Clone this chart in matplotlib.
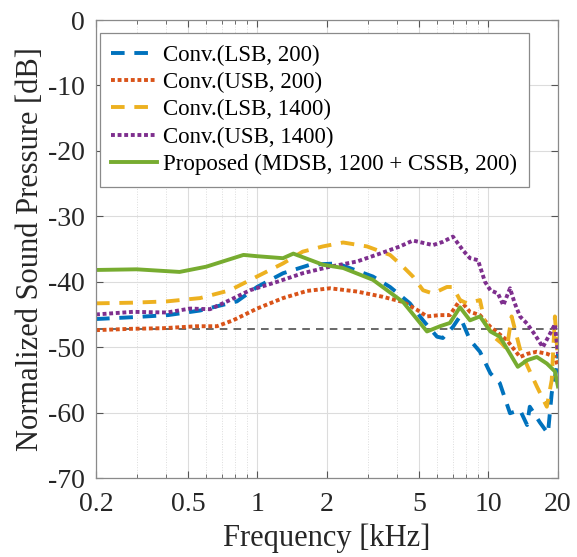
import matplotlib
matplotlib.use("Agg")
import matplotlib.pyplot as plt
from matplotlib.ticker import FixedLocator, NullFormatter, LogLocator

plt.rcParams['font.family'] = ['Liberation Serif', 'DejaVu Serif']

# Conv.(LSB, 200)
f_lsb200 = [0.2, 0.295, 0.41, 0.564, 0.815, 0.996, 1.29, 1.69, 2.21, 3.16, 3.75, 4.57, 5.21,
            5.99, 6.35, 7.02, 7.53, 8.32, 9.19, 10.2, 11.2, 12.4, 13.7, 14.7, 15.1, 16.7,
            18.1, 18.8, 19.8, 20]
db_lsb200 = [-45.7, -45.4, -45.1, -44.4, -43.0, -40.8, -38.7, -37.4, -37.2, -39.2, -40.8, -43.3,
             -45.9, -48.4, -48.6, -46.9, -45.3, -48.9, -50.7, -54.0, -55.5, -60.1, -59.6, -61.9,
             -59.1, -61.5, -63.2, -57.0, -53.0, -51.0]

# Conv.(USB, 200)
f_usb200 = [0.2, 0.281, 0.39, 0.547, 0.668, 0.784, 0.996, 1.29, 1.64, 2.06, 2.70, 3.49, 4.27,
            4.91, 5.42, 6.17, 6.81, 7.53, 8.32, 9.19, 10.2, 12.0, 13.7, 14.8, 16.2, 17.9, 19.4, 20]
db_usb200 = [-47.4, -47.2, -47.1, -46.8, -46.8, -45.9, -44.1, -42.5, -41.4, -41.0, -41.5, -42.3,
             -43.1, -44.3, -45.3, -45.1, -45.1, -42.8, -44.6, -45.1, -46.9, -48.9, -51.5, -51.0,
             -50.7, -51.0, -51.5, -53.0]

# Conv.(LSB, 1400)
f_lsb1400 = [0.2, 0.289, 0.406, 0.564, 0.76, 0.996, 1.29, 1.57, 1.92, 2.35, 2.98, 3.75, 4.27,
             4.71, 5.21, 5.75, 6.61, 7.02, 7.53, 8.07, 9.19, 9.66, 10.7, 11.4, 12.0, 12.6, 13.7,
             14.8, 16.2, 17.9, 18.8, 19.4, 20]
db_lsb1400 = [-43.3, -43.2, -43.0, -42.5, -41.3, -39.2, -37.2, -35.4, -34.6, -34.0, -34.6, -35.9,
              -37.7, -39.2, -41.3, -41.8, -40.8, -40.8, -42.8, -43.3, -42.8, -46.3, -48.6, -49.4,
              -50.3, -45.3, -50.3, -53.0, -56.0, -59.1, -55.0, -45.3, -52.0]

# Conv.(USB, 1400)
f_usb1400 = [0.2, 0.289, 0.406, 0.51, 0.623, 0.76, 0.928, 1.22, 1.57, 2.06, 2.70, 3.39, 4.14,
             4.71, 5.75, 6.35, 7.02, 7.76, 8.32, 9.01, 9.66, 10.2, 11.0, 11.6, 12.4, 13.0, 13.7,
             14.7, 15.9, 17.2, 18.5, 19.4, 20]
db_usb1400 = [-45.0, -44.6, -44.7, -44.1, -44.2, -42.8, -41.3, -40.0, -38.7, -37.7, -36.9, -35.7,
              -34.6, -33.7, -34.4, -33.9, -33.1, -35.2, -36.4, -36.7, -40.0, -41.3, -41.8, -43.6,
              -41.0, -43.3, -45.3, -46.4, -48.1, -50.0, -47.9, -46.5, -51.0]

# Proposed (MDSB, 1200 + CSSB, 200)
f_prop = [0.2, 0.3, 0.46, 0.6, 0.87, 1.0, 1.29, 1.43, 1.92, 2.35, 3.16, 4.27, 5.42, 6.17, 6.81,
          7.53, 8.32, 9.19, 10.2, 11.2, 12.4, 13.4, 14.7, 16.2, 17.9, 19.4, 20]
db_prop = [-38.2, -38.1, -38.5, -37.7, -35.9, -36.1, -36.4, -35.7, -37.4, -37.9, -39.7, -43.1,
           -47.6, -46.8, -46.3, -43.9, -45.9, -45.3, -47.6, -48.4, -51.0, -53.0, -52.0, -51.5,
           -52.5, -53.7, -56.0]

ref_level = -47.2
xticks = [0.2, 0.5, 1, 2, 5, 10, 20]
xticklabels = ['0.2', '0.5', '1', '2', '5', '10', '20']
yticks = [0, -10, -20, -30, -40, -50, -60, -70]

fig = plt.figure(figsize=(5.77, 5.57), dpi=100)
ax = fig.add_axes([0.1664, 0.1418, 0.8006, 0.8222])

lw = 2.8
ax.plot([0.2, 20], [ref_level, ref_level], color='#404040', lw=1.1, ls=(0, (5, 4)), zorder=2)
ax.plot(f_lsb200, db_lsb200, color='#0072BD', lw=lw, ls=(0, (3.5, 2.5)), label='Conv.(LSB, 200)')
ax.plot(f_usb200, db_usb200, color='#D95319', lw=lw, ls=(0, (1, 0.7)), label='Conv.(USB, 200)')
ax.plot(f_lsb1400, db_lsb1400, color='#EDB120', lw=lw, ls=(0, (3.5, 2.5)), label='Conv.(LSB, 1400)')
ax.plot(f_usb1400, db_usb1400, color='#7E2F8E', lw=lw, ls=(0, (1, 0.7)), label='Conv.(USB, 1400)')
ax.plot(f_prop, db_prop, color='#77AC30', lw=lw, label='Proposed (MDSB, 1200 + CSSB, 200)')

ax.set_xscale('log')
ax.set_xlim(0.2, 20)
ax.set_ylim(-70, 0)
ax.xaxis.set_major_locator(FixedLocator(xticks))
ax.set_xticklabels(xticklabels)
ax.xaxis.set_minor_locator(LogLocator(base=10, subs=range(2, 10)))
ax.xaxis.set_minor_formatter(NullFormatter())
ax.set_yticks(yticks)
ax.set_yticklabels([str(v) for v in yticks])

ax.grid(True, which='major', color='#dcdcdc', lw=0.8)
ax.grid(True, which='minor', color='#dcdcdc', lw=0.7, ls=':')
ax.set_axisbelow(True)
ax.tick_params(which='both', direction='in', top=True, right=True, color='#555555',
               labelsize=20, labelcolor='#262626')
ax.tick_params(axis='y', pad=8)
ax.tick_params(axis='x', pad=10)
ax.tick_params(which='major', length=5)
ax.tick_params(which='minor', length=3)
for s in ax.spines.values():
    s.set_color('#8a8a8a')
    s.set_linewidth(0.9)

ax.set_xlabel('Frequency [kHz]', fontsize=22, labelpad=5, color='#262626')
ax.set_ylabel('Normalized Sound Pressure [dB]', fontsize=22, labelpad=2, color='#262626')

leg = ax.legend(loc='upper left', bbox_to_anchor=(0.0087, 0.9716), borderaxespad=0,
                fontsize=16.5, handlelength=2.0, handletextpad=0.25,
                labelspacing=0.27, fancybox=False, framealpha=1, borderpad=0.5)
leg.get_frame().set_edgecolor('#8a8a8a')
leg.get_frame().set_linewidth(0.9)

fig.savefig('out.png', dpi=100)
